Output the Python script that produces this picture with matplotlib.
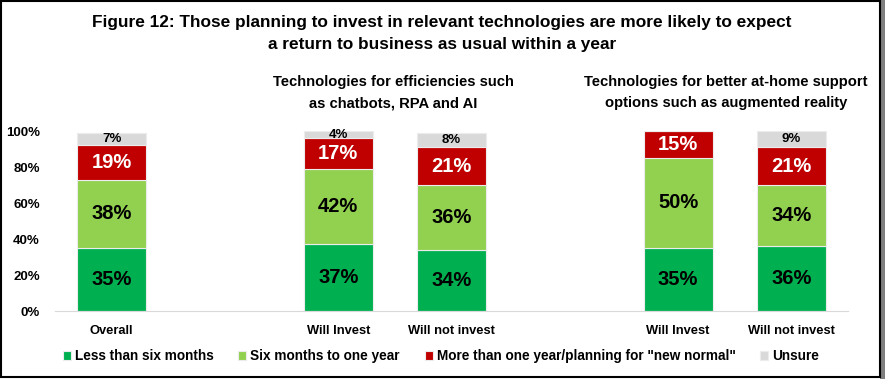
#!/usr/bin/env python3
"""Stacked percentage bars: expected return to business as usual"""
import numpy as np
import matplotlib.pyplot as plt
from matplotlib.patches import Rectangle

plt.rcParams['font.family'] = ['Liberation Sans Narrow', 'Liberation Sans', 'DejaVu Sans']
plt.rcParams['font.weight'] = 'bold'

categories = ["Overall", "Will Invest", "Will not invest", "Will Invest", "Will not invest"]
slots = [0, 2, 3, 5, 6]
less_six = [35, 37, 34, 35, 36]
six_to_year = [38, 42, 36, 50, 34]
more_year = [19, 17, 21, 15, 21]
unsure = [7, 4, 8, 0, 9]
series_names = ["Less than six months", "Six months to one year",
                'More than one year/planning for "new normal"', "Unsure"]
colors = ["#00B050", "#92D050", "#C00000", "#D9D9D9"]
text_colors = ["black", "black", "white", "black"]
text_sizes = [14.5, 14.5, 14.5, 9.5]

fig = plt.figure(figsize=(8.85, 3.79), dpi=100)
ax = fig.add_axes([55 / 885, 1 - 311 / 379, 793 / 885, 180 / 379])

x = np.array(slots)
bottom = np.zeros(len(x))
series = [less_six, six_to_year, more_year, unsure]
for vals, name, col, tc, ts in zip(series, series_names, colors, text_colors, text_sizes):
    vals = np.array(vals) / 100
    bars = ax.bar(x, vals, 0.61, bottom=bottom, color=col, label=name,
                  edgecolor="#ececec", linewidth=0.8)
    for b, v, y0 in zip(bars, vals, bottom):
        if v > 0:
            ax.text(b.get_x() + b.get_width() / 2, y0 + v / 2, f"{round(v * 100)}%",
                    ha="center", va="center", color=tc, fontsize=ts, fontweight="bold")
    bottom += vals

ax.set_xlim(-0.5, 6.5)
ax.set_ylim(0, 1)
ticks = np.arange(0, 1.01, 0.2)
ax.set_yticks(ticks)
ax.set_yticklabels([f"{int(round(t * 100))}%" for t in ticks], fontsize=9.5)
ax.set_xticks(slots)
ax.set_xticklabels(categories, fontsize=9.3)
ax.tick_params(axis="both", length=0)
ax.tick_params(axis="x", pad=10)
ax.tick_params(axis="y", pad=11)
for s in ["top", "right", "left"]:
    ax.spines[s].set_visible(False)
ax.spines["bottom"].set_color("#d9d9d9")

# Titles
fig.text(442 / 885, 1 - 22 / 379, "Figure 12: Those planning to invest in relevant technologies are more likely to expect",
         ha="center", va="center", fontsize=12.4, fontweight="bold")
fig.text(442 / 885, 1 - 44 / 379, "a return to business as usual within a year",
         ha="center", va="center", fontsize=12.4, fontweight="bold")

# Group headers
headers = [(393, "Technologies for efficiencies such", "as chatbots, RPA and AI"),
           (726, "Technologies for better at-home support", "options such as augmented reality")]
for cx, line1, line2 in headers:
    fig.text(cx / 885, 1 - 82 / 379, line1, ha="center", va="center",
             fontsize=10.6, fontweight="bold")
    fig.text(cx / 885, 1 - 103 / 379, line2, ha="center", va="center",
             fontsize=10.6, fontweight="bold")

fig.legend(loc="center", bbox_to_anchor=(441 / 885, 1 - 356 / 379), ncol=4, frameon=False,
           fontsize=9.8, handlelength=0.6, handleheight=0.6, handletextpad=0.3,
           columnspacing=1.8)

# Border with shadow
fig.patches.append(Rectangle((880 / 885, 0), 5 / 885, 1, transform=fig.transFigure,
                             facecolor="#7f7f7f", edgecolor="none"))
fig.patches.append(Rectangle((1 / 885, 2 / 379), 879 / 885, 376 / 379, transform=fig.transFigure,
                             facecolor="none", edgecolor="black", linewidth=1.5))

fig.savefig("out.png", dpi=100)
